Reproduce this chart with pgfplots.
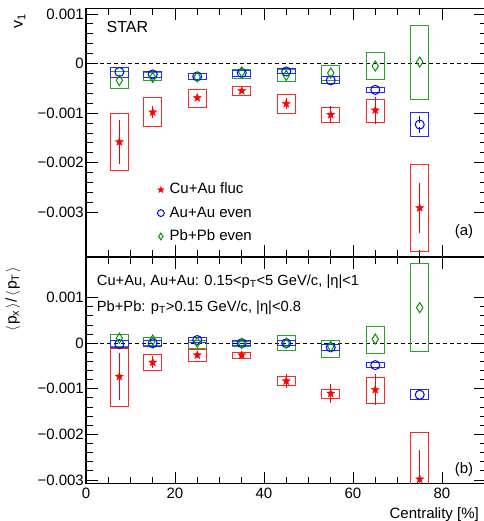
\documentclass[border=0pt]{standalone}
\usepackage{fontspec}
\setmainfont{Liberation Sans}
\usepackage{pgfplots}
\pgfplotsset{compat=1.18}

\definecolor{cred}{RGB}{255,0,0}
\definecolor{cblue}{RGB}{0,0,255}
\definecolor{cgreen}{RGB}{0,150,0}
\definecolor{bred}{RGB}{255,40,40}
\definecolor{bblue}{RGB}{40,40,255}
\definecolor{bgreen}{RGB}{40,165,40}

% filled five-point star (ROOT marker 29)
\pgfdeclareplotmark{fstar}{%
  \pgfpathmoveto{\pgfpointpolar{90}{\pgfplotmarksize}}%
  \pgfpathlineto{\pgfpointpolar{126}{0.42\pgfplotmarksize}}%
  \pgfpathlineto{\pgfpointpolar{162}{\pgfplotmarksize}}%
  \pgfpathlineto{\pgfpointpolar{198}{0.42\pgfplotmarksize}}%
  \pgfpathlineto{\pgfpointpolar{234}{\pgfplotmarksize}}%
  \pgfpathlineto{\pgfpointpolar{270}{0.42\pgfplotmarksize}}%
  \pgfpathlineto{\pgfpointpolar{306}{\pgfplotmarksize}}%
  \pgfpathlineto{\pgfpointpolar{342}{0.42\pgfplotmarksize}}%
  \pgfpathlineto{\pgfpointpolar{18}{\pgfplotmarksize}}%
  \pgfpathlineto{\pgfpointpolar{54}{0.42\pgfplotmarksize}}%
  \pgfpathclose\pgfusepathqfillstroke}

\pgfplotsset{
  panel/.style={
    scale only axis, width=400.5bp, xmin=0, xmax=90,
    axis line style={line width=1.2bp},
    tick style={line width=0.9bp, black},
    major tick length=12bp, minor tick length=6.5bp,
    xtick={0,20,40,60,80}, minor x tick num=3,
    minor y tick num=4,
    scaled y ticks=false,
    ytick={-0.003,-0.002,-0.001,0,0.001},
    yticklabels={−0.003,−0.002,−0.001,0,0.001},
    yticklabel style={anchor=east, inner sep=0pt, xshift=-2bp},
    xticklabel style={anchor=north, inner sep=0pt, yshift=-4.3bp},
    unbounded coords=jump,
  },
  sysbox/.style={line width=1bp, line join=miter, line cap=rect, forget plot},
  statbar/.style={draw=#1, color=#1, solid, line width=1.1bp, forget plot},
  zero/.style={black, line width=0.9bp, dash pattern=on 4bp off 3bp, forget plot},
  star/.style={only marks, cred, mark=fstar, mark size=4.3bp, mark options={line width=0.3bp}},
  circ/.style={only marks, cblue, mark=o, mark size=4.5bp, mark options={line width=1bp}},
  diam/.style={only marks, cgreen, mark=diamond, mark size=5bp, mark options={line width=1bp, xscale=0.85}},
}

% central values
\pgfplotstableread{
x y
7.5 -0.00158
15 -0.00098
25 -0.00069
35 -0.00055
45 -0.00081
55 -0.00103
65 -0.00094
75 -0.00291
}\cuaua
\pgfplotstableread{
x y
7.5 -0.00017
15 -0.00022
25 -0.00026
35 -0.00019
45 -0.00016
55 -0.00034
65 -0.00053
75 -0.00123
}\auaua
\pgfplotstableread{
x y
7.5 -0.00034
15 -0.00028
25 -0.00027
35 -0.00017
45 -0.00024
55 -0.00019
65 -0.00005
75 0.00003
}\pbpba
\pgfplotstableread{
x y
7.5 -0.00073
15 -0.00042
25 -0.00026
35 -0.00026
45 -0.00083
55 -0.00110
65 -0.00102
75 -0.00298
}\cuaub
\pgfplotstableread{
x y
7.5 -0.00002
15 0.00000
25 0.00007
35 0.00000
45 0.00000
55 -0.00009
65 -0.00048
75 -0.00113
}\auaub
\pgfplotstableread{
x y
7.5 0.00011
15 0.00007
25 0.00002
35 0.00000
45 0.00000
55 -0.00007
65 0.00009
75 0.00078
}\pbpbb

\begin{document}
\begin{tikzpicture}[font=\fontsize{15bp}{18bp}\selectfont]
\path[use as bounding box] (0,0) rectangle (484bp,521bp);

% ---------------- panel (a)
\begin{axis}[panel, at={(86bp,264bp)}, anchor=south west,
  height=248.5bp, ymin=-0.0039, ymax=0.00111, xticklabels={},
  legend style={draw=none, fill=none, at={(0.17,0.326)}, anchor=north west,
    font=\fontsize{15bp}{18bp}\selectfont, row sep=0pt,
    nodes={inner ysep=4.65bp, text height=11bp, text depth=3bp}},
  legend cell align=left,
  legend image code/.code={\draw[#1, mark size=3.4bp] plot coordinates {(0bp,0bp)};
    \path (-3.4bp,0bp) (6.6bp,0bp);}]
\addplot[zero] coordinates {(0,0) (90,0)};
% systematic boxes
\addplot[sysbox, bred] coordinates {
(5.5,-0.00100)(9.5,-0.00100)(9.5,-0.00216)(5.5,-0.00216)(5.5,-0.00100)(nan,nan)
(13,-0.00069)(17,-0.00069)(17,-0.00127)(13,-0.00127)(13,-0.00069)(nan,nan)
(23,-0.00053)(27,-0.00053)(27,-0.00088)(23,-0.00088)(23,-0.00053)(nan,nan)
(33,-0.00046)(37,-0.00046)(37,-0.00065)(33,-0.00065)(33,-0.00046)(nan,nan)
(43,-0.00063)(47,-0.00063)(47,-0.00100)(43,-0.00100)(43,-0.00063)(nan,nan)
(53,-0.00088)(57,-0.00088)(57,-0.00119)(53,-0.00119)(53,-0.00088)(nan,nan)
(63,-0.00073)(67,-0.00073)(67,-0.00118)(63,-0.00118)(63,-0.00073)(nan,nan)
(73,-0.00204)(77,-0.00204)(77,-0.00379)(73,-0.00379)(73,-0.00204)
};
\addplot[sysbox, bgreen] coordinates {
(5.5,-0.00017)(9.5,-0.00017)(9.5,-0.00051)(5.5,-0.00051)(5.5,-0.00017)(nan,nan)
(13,-0.00019)(17,-0.00019)(17,-0.00035)(13,-0.00035)(13,-0.00019)(nan,nan)
(23,-0.00020)(27,-0.00020)(27,-0.00033)(23,-0.00033)(23,-0.00020)(nan,nan)
(33,-0.00012)(37,-0.00012)(37,-0.00030)(33,-0.00030)(33,-0.00012)(nan,nan)
(43,-0.00012)(47,-0.00012)(47,-0.00037)(43,-0.00037)(43,-0.00012)(nan,nan)
(53,-0.00003)(57,-0.00003)(57,-0.00034)(53,-0.00034)(53,-0.00003)(nan,nan)
(63,0.00023)(67,0.00023)(67,-0.00032)(63,-0.00032)(63,0.00023)(nan,nan)
(73,0.00077)(77,0.00077)(77,-0.00072)(73,-0.00072)(73,0.00077)
};
\addplot[sysbox, bblue] coordinates {
(5.5,-0.00008)(9.5,-0.00008)(9.5,-0.00028)(5.5,-0.00028)(5.5,-0.00008)(nan,nan)
(13,-0.00016)(17,-0.00016)(17,-0.00028)(13,-0.00028)(13,-0.00016)(nan,nan)
(23,-0.00020)(27,-0.00020)(27,-0.00032)(23,-0.00032)(23,-0.00020)(nan,nan)
(33,-0.00013)(37,-0.00013)(37,-0.00026)(33,-0.00026)(33,-0.00013)(nan,nan)
(43,-0.00010)(47,-0.00010)(47,-0.00020)(43,-0.00020)(43,-0.00010)(nan,nan)
(53,-0.00027)(57,-0.00027)(57,-0.00040)(53,-0.00040)(53,-0.00027)(nan,nan)
(63,-0.00049)(67,-0.00049)(67,-0.00059)(63,-0.00059)(63,-0.00049)(nan,nan)
(73,-0.00099)(77,-0.00099)(77,-0.00147)(73,-0.00147)(73,-0.00099)
};
% points
\addplot[star] table[x=x, y=y] {\cuaua};
\addlegendentry{Cu+Au fluc}
\addplot[circ] table[x=x, y=y] {\auaua};
\addlegendentry{Au+Au even}
\addplot[diam] table[x=x, y=y] {\pbpba};
\addlegendentry{Pb+Pb even}
% statistical error bars, drawn last
\addplot[statbar=cred] coordinates {
(7.5,-0.00114)(7.5,-0.00202)(nan,nan) (15,-0.00086)(15,-0.00110)(nan,nan)
(25,-0.00064)(25,-0.00074)(nan,nan) (35,-0.00050)(35,-0.00060)(nan,nan)
(45,-0.00070)(45,-0.00092)(nan,nan) (55,-0.00086)(55,-0.00120)(nan,nan)
(65,-0.00067)(65,-0.00121)(nan,nan) (75,-0.00241)(75,-0.00341)
};
\addplot[statbar=cblue] coordinates {(75,-0.00106)(75,-0.00119)(nan,nan)(75,-0.00128)(75,-0.00140)};
\end{axis}

% ---------------- panel (b)
\begin{axis}[panel, at={(86bp,37.3bp)}, anchor=south west,
  height=226.7bp, ymin=-0.00308, ymax=0.00189,
  xticklabels={0,20,40,60,80}]
\addplot[zero] coordinates {(0,0) (90,0)};
\addplot[sysbox, bred] coordinates {
(5.5,-0.00011)(9.5,-0.00011)(9.5,-0.00139)(5.5,-0.00139)(5.5,-0.00011)(nan,nan)
(13,-0.00024)(17,-0.00024)(17,-0.00059)(13,-0.00059)(13,-0.00024)(nan,nan)
(23,-0.00013)(27,-0.00013)(27,-0.00040)(23,-0.00040)(23,-0.00013)(nan,nan)
(33,-0.00021)(37,-0.00021)(37,-0.00034)(33,-0.00034)(33,-0.00021)(nan,nan)
(43,-0.00073)(47,-0.00073)(47,-0.00093)(43,-0.00093)(43,-0.00073)(nan,nan)
(53,-0.00101)(57,-0.00101)(57,-0.00121)(53,-0.00121)(53,-0.00101)(nan,nan)
(63,-0.00075)(67,-0.00075)(67,-0.00132)(63,-0.00132)(63,-0.00075)(nan,nan)
(73,-0.00196)(77,-0.00196)(77,-0.00400)(73,-0.00400)(73,-0.00196)
};
\addplot[sysbox, bgreen] coordinates {
(5.5,0.00020)(9.5,0.00020)(9.5,-0.00007)(5.5,-0.00007)(5.5,0.00020)(nan,nan)
(13,0.00012)(17,0.00012)(17,-0.00005)(13,-0.00005)(13,0.00012)(nan,nan)
(23,0.00007)(27,0.00007)(27,-0.00012)(23,-0.00012)(23,0.00007)(nan,nan)
(33,0.00004)(37,0.00004)(37,-0.00007)(33,-0.00007)(33,0.00004)(nan,nan)
(43,0.00017)(47,0.00017)(47,-0.00016)(43,-0.00016)(43,0.00017)(nan,nan)
(53,0.00007)(57,0.00007)(57,-0.00031)(53,-0.00031)(53,0.00007)(nan,nan)
(63,0.00036)(67,0.00036)(67,-0.00022)(63,-0.00022)(63,0.00036)(nan,nan)
(73,0.00175)(77,0.00175)(77,-0.00018)(73,-0.00018)(73,0.00175)
};
\addplot[sysbox, bblue] coordinates {
(5.5,0.00006)(9.5,0.00006)(9.5,-0.00010)(5.5,-0.00010)(5.5,0.00006)(nan,nan)
(13,0.00007)(17,0.00007)(17,-0.00007)(13,-0.00007)(13,0.00007)(nan,nan)
(23,0.00012)(27,0.00012)(27,0.00002)(23,0.00002)(23,0.00012)(nan,nan)
(33,0.00006)(37,0.00006)(37,-0.00006)(33,-0.00006)(33,0.00006)(nan,nan)
(43,0.00006)(47,0.00006)(47,-0.00005)(43,-0.00005)(43,0.00006)(nan,nan)
(53,-0.00002)(57,-0.00002)(57,-0.00016)(53,-0.00016)(53,-0.00002)(nan,nan)
(63,-0.00043)(67,-0.00043)(67,-0.00054)(63,-0.00054)(63,-0.00043)(nan,nan)
(73,-0.00102)(77,-0.00102)(77,-0.00124)(73,-0.00124)(73,-0.00102)
};
\addplot[star] table[x=x, y=y] {\cuaub};
\addplot[circ] table[x=x, y=y] {\auaub};
\addplot[diam] table[x=x, y=y] {\pbpbb};
\addplot[statbar=cred] coordinates {
(7.5,-0.00021)(7.5,-0.00125)(nan,nan) (15,-0.00029)(15,-0.00055)(nan,nan)
(25,-0.00020)(25,-0.00032)(nan,nan) (35,-0.00020)(35,-0.00032)(nan,nan)
(45,-0.00068)(45,-0.00098)(nan,nan) (55,-0.00090)(55,-0.00130)(nan,nan)
(65,-0.00068)(65,-0.00136)(nan,nan) (75,-0.00235)(75,-0.00361)
};
\end{axis}

% texts
\node[anchor=base west, inner sep=0pt, font=\fontsize{16bp}{18bp}\selectfont] at (106.5bp,488.3bp) {STAR};
\node[anchor=base east, inner sep=0pt] at (473.3bp,285.5bp) {(a)};
\node[anchor=base east, inner sep=0pt] at (473.3bp,47.7bp) {(b)};
\node[anchor=base west, inner sep=0pt, font=\fontsize{14.7bp}{18bp}\selectfont] at (96.7bp,235.3bp)
  {Cu+Au, Au+Au: 0.15<p\textsubscript{T}<5 GeV/c, |η|<1};
\node[anchor=base west, inner sep=0pt, font=\fontsize{14.7bp}{18bp}\selectfont] at (96.7bp,209.3bp)
  {Pb+Pb: p\textsubscript{T}>0.15 GeV/c, |η|<0.8};
\node[rotate=90, anchor=base east, inner sep=0pt, font=\fontsize{16bp}{18bp}\selectfont] at (22.7bp,507.7bp) {v\textsubscript{1}};
\node[rotate=90, anchor=base east, inner sep=0pt, font=\fontsize{15.5bp}{18bp}\selectfont] at (16.7bp,254.3bp)
  {$\big\langle$\kern1.5bp p\textsubscript{x}\kern1.5bp$\big\rangle$\kern1bp/\kern1bp$\big\langle$\kern1.5bp p\textsubscript{T}\kern1.5bp$\big\rangle$};
\node[anchor=base east, inner sep=0pt] at (479bp,3bp) {Centrality [\%]};
\end{tikzpicture}
\end{document}
